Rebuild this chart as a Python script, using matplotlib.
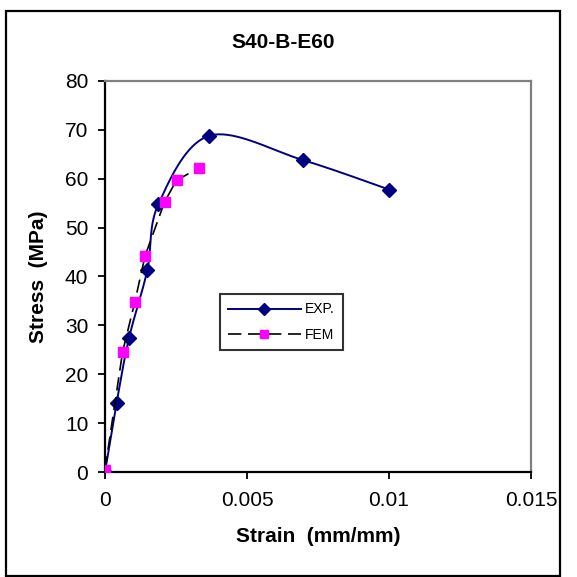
import numpy as np
import matplotlib
matplotlib.use("Agg")
import matplotlib.pyplot as plt
from matplotlib.patches import Rectangle

plt.rcParams['font.family'] = ['Liberation Sans', 'DejaVu Sans']

# data
exp_strain = [0.0, 0.00041, 0.000845, 0.00149, 0.00188, 0.00367, 0.00698, 0.0100]
exp_stress = [0.0, 14.2, 27.4, 41.3, 54.8, 68.8, 63.8, 57.8]

fem_strain = [0.0, 0.00062, 0.00105, 0.00141, 0.0021, 0.00252, 0.00331]
fem_stress = [0.5, 24.6, 34.8, 44.2, 55.3, 59.7, 62.2]

title = 'S40-B-E60'
x_label = 'Strain  (mm/mm)'
y_label = 'Stress  (MPa)'
x_ticks = [0, 0.005, 0.01, 0.015]
x_tick_labels = ['0', '0.005', '0.01', '0.015']
y_ticks = [0, 10, 20, 30, 40, 50, 60, 70, 80]

XMAX, YMAX = 0.015, 80


def smooth_line(xs, ys, sx, sy, n=40):
    """Excel-like smoothed line (Catmull-Rom bezier) in screen-ish space."""
    p = np.column_stack([np.asarray(xs) / sx, np.asarray(ys) / sy])
    pts = []
    for i in range(len(p) - 1):
        p0 = p[max(i - 1, 0)]
        p1 = p[i]
        p2 = p[i + 1]
        p3 = p[min(i + 2, len(p) - 1)]
        c1 = p1 + (p2 - p0) / 6.0
        c2 = p2 - (p3 - p1) / 6.0
        t = np.linspace(0, 1, n)[:, None]
        seg = ((1 - t) ** 3 * p1 + 3 * (1 - t) ** 2 * t * c1
               + 3 * (1 - t) * t ** 2 * c2 + t ** 3 * p2)
        pts.append(seg if i == 0 else seg[1:])
    pts = np.vstack(pts)
    return pts[:, 0] * sx, pts[:, 1] * sy


fig = plt.figure(figsize=(5.77, 5.77), dpi=100)
ax = fig.add_axes([105 / 577, 1 - 472 / 577, 426 / 577, 391 / 577])

# EXP: smoothed navy line with diamonds
sx_, sy_ = smooth_line(exp_strain, exp_stress, XMAX / 426, YMAX / 391)
ax.plot(sx_, sy_, color='#000080', lw=1.4, zorder=2)
ax.plot(exp_strain, exp_stress, linestyle='none', marker='D', ms=7,
        color='#000080', zorder=3)
exp_handle, = ax.plot([], [], color='#000080', lw=1.4, marker='D', ms=6,
                      label='EXP.')

# FEM: dashed black line with magenta squares
ax.plot(fem_strain, fem_stress, color='black', lw=1.2, dashes=(8, 4), zorder=4)
ax.plot(fem_strain, fem_stress, linestyle='none', marker='s', ms=7.5,
        color='#FF00FF', markeredgecolor='#FF00FF', zorder=5)
fem_handle, = ax.plot([], [], color='black', lw=1.2, dashes=(8, 4),
                      marker='s', ms=6, markerfacecolor='#FF00FF',
                      markeredgecolor='#FF00FF', label='FEM')

ax.set_xlim(0, XMAX)
ax.set_ylim(0, YMAX)
ax.set_xticks(x_ticks)
ax.set_xticklabels(x_tick_labels)
ax.set_yticks(y_ticks)
ax.tick_params(axis='both', labelsize=15, length=5, width=1.3,
               direction='out', color='black')
ax.tick_params(axis='x', pad=9)
ax.tick_params(axis='y', pad=7)
ax.tick_params(top=False, right=False)

for side in ['left', 'bottom']:
    ax.spines[side].set_color('black')
    ax.spines[side].set_linewidth(1.6)
for side in ['top', 'right']:
    ax.spines[side].set_color('#808080')
    ax.spines[side].set_linewidth(1.6)

ax.set_xlabel(x_label, fontsize=15, fontweight='bold', labelpad=12)
ax.set_ylabel(y_label, fontsize=15, fontweight='bold', labelpad=12)

leg = ax.legend(handles=[exp_handle, fem_handle], loc='upper left',
                bbox_to_anchor=(0.27, 0.455), fontsize=10, frameon=True,
                fancybox=False, handlelength=5.2, handletextpad=0.3,
                borderpad=0.6, labelspacing=0.8, borderaxespad=0)
leg.get_frame().set_edgecolor('black')
leg.get_frame().set_linewidth(1.5)

fig.text(283 / 577, 1 - 43 / 577, title, fontsize=15, fontweight='bold',
         ha='center', va='center')

# outer chart border
fig.patches.append(Rectangle((6 / 577, 1 / 577), 554 / 577, 565 / 577,
                             transform=fig.transFigure, fill=False,
                             edgecolor='black', linewidth=1.6))

fig.savefig('out.png', dpi=100)
